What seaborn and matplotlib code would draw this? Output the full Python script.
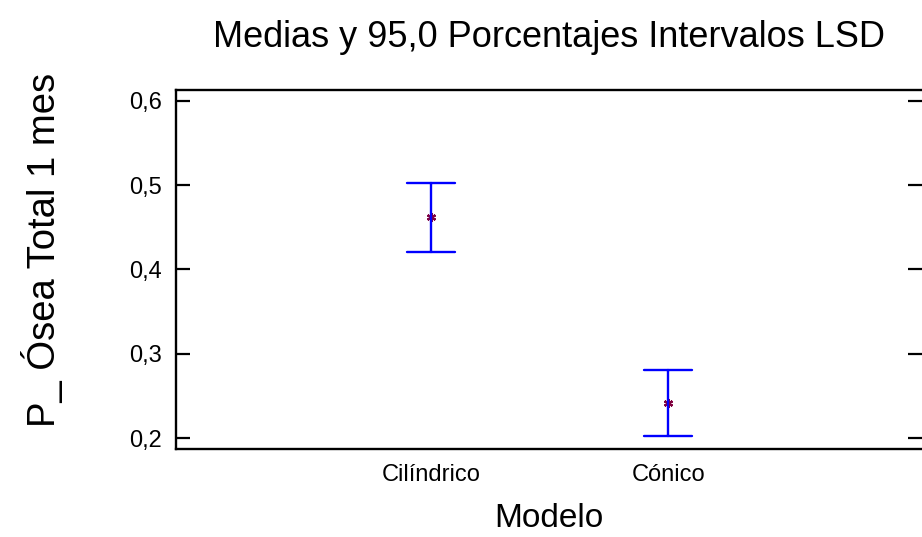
import matplotlib
matplotlib.use("Agg")
import matplotlib.pyplot as plt
import seaborn as sns
import pandas as pd

# Means with 95% LSD interval bounds per model
modelos = ["Cilíndrico", "Cónico"]
medias = [0.462, 0.242]
limite_inf = [0.421, 0.203]
limite_sup = [0.503, 0.281]
yticks = [0.2, 0.3, 0.4, 0.5, 0.6]
ytick_labels = ["0,2", "0,3", "0,4", "0,5", "0,6"]

# Long table: lower bound, mean and upper bound per model; the median gives the
# mean and the full percentile interval gives the LSD bounds.
rows = []
for m, lo, mu, hi in zip(modelos, limite_inf, medias, limite_sup):
    for v in (lo, mu, hi):
        rows.append({"Modelo": m, "valor": v})
df = pd.DataFrame(rows)

sns.set_theme(style="white")
plt.rcParams["font.family"] = ["Liberation Sans", "DejaVu Sans"]

fig = plt.figure(figsize=(9.22, 5.37), dpi=100)
ax = fig.add_axes([176 / 922, 1 - 449 / 537, 746 / 922, 359 / 537])

sns.pointplot(
    data=df, x="Modelo", y="valor", order=modelos,
    estimator="median", errorbar=("pi", 100),
    linestyle="none", capsize=0.2,
    marker=(6, 2, 0), markersize=6.5, markeredgewidth=1.6,
    color="#80003f",
    err_kws={"color": "#0000ff", "linewidth": 1.7},
    ax=ax,
)
# keep mean markers above the interval lines
for coll in ax.collections:
    coll.set_zorder(5)

ax.set_xlim(-1.075, 2.07)
ax.set_ylim(0.187, 0.613)
ax.set_yticks(yticks)
ax.set_yticklabels(ytick_labels, fontsize=17, color="black")
ax.tick_params(axis="y", which="both", left=True, right=True, direction="in",
               length=10, width=1.6, pad=10, colors="black")
ax.tick_params(axis="x", length=0, pad=11, labelsize=17, labelcolor="black")

for side in ("left", "top", "bottom"):
    ax.spines[side].set_linewidth(1.7)
    ax.spines[side].set_color("black")
ax.spines["right"].set_visible(False)

ax.set_title("Medias y 95,0 Porcentajes Intervalos LSD", fontsize=26, pad=31,
             color="black")
ax.set_xlabel("Modelo", fontsize=24, labelpad=12, color="black")
ax.set_ylabel("P_ Ósea Total 1 mes", fontsize=27.5, color="black")
ax.yaxis.set_label_coords(-0.152, 0.555)

fig.savefig("out.png", dpi=100, facecolor="white")
